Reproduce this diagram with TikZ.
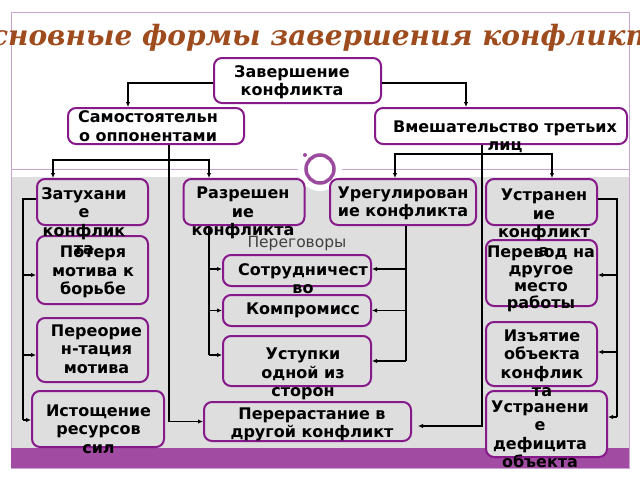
\documentclass[tikz,border=0pt]{standalone}
\usepackage{fontspec}
\setmainfont{DejaVu Sans}
\newfontfamily\titlefont{DejaVu Serif}
\usetikzlibrary{arrows.meta}
\definecolor{boxpurple}{HTML}{861A8A}
\definecolor{framepurple}{HTML}{C9A3D2}
\definecolor{barpurple}{HTML}{A24BA2}
\definecolor{ringpurple}{HTML}{9B4A9E}
\definecolor{boxgray}{HTML}{DEDEDE}
\definecolor{titlebrown}{HTML}{9E4C1E}
\definecolor{softtext}{HTML}{404040}
\begin{document}
\begin{tikzpicture}[x=1pt,y=-1pt,
  box/.style={draw=boxpurple, line width=2pt, rounded corners=8pt, fill=white, inner sep=0pt},
  gbox/.style={box, fill=boxgray},
  txt/.style={font=\bfseries\fontsize{16}{18.5}\selectfont, align=center, inner sep=0pt},
  line/.style={draw=black, line width=1.1pt},
  conn/.style={line, -{Latex[length=5pt,width=4.5pt]}}]
\useasboundingbox (0,0) rectangle (640,480);
% background
\fill[white] (0,0) rectangle (640,480);
\draw[framepurple, line width=1pt] (11,12) rectangle (629,468);
\draw[framepurple, line width=1pt] (11,169) -- (629,169);
\fill[boxgray] (12,177) rectangle (629,448);
\fill[barpurple] (11,448) rectangle (629,468);
\fill[white] (320,169) circle (22);
\draw[ringpurple, line width=3.5pt] (320,169) circle (14);
\fill[ringpurple] (305,155) circle (2);
\fill[ringpurple] (335,183) circle (2);
% title
\node[font=\titlefont\bfseries\itshape\fontsize{28}{30}\selectfont, text=titlebrown, anchor=base, inner sep=0pt] (title) at (320,45) {Основные формы завершения конфликта};
% boxes
\node[box, minimum width=167pt, minimum height=45pt] (zav) at (297.5,80.5) {};
\node[box, minimum width=176pt, minimum height=36pt] (sam) at (156,126) {};
\node[box, minimum width=252pt, minimum height=36pt] (vme) at (501,126) {};
\node[gbox, minimum width=111pt, minimum height=46pt] (zat) at (92.5,202) {};
\node[gbox, minimum width=121pt, minimum height=46pt] (raz) at (244,202) {};
\node[gbox, minimum width=146pt, minimum height=46pt] (ure) at (403,202) {};
\node[gbox, minimum width=111pt, minimum height=46pt] (ust) at (541.5,202) {};
\node[gbox, minimum width=111pt, minimum height=68pt] (pot) at (92.5,270) {};
\node[gbox, minimum width=111pt, minimum height=64pt] (per) at (92.5,350) {};
\node[gbox, minimum width=132pt, minimum height=56pt] (ist) at (98,419) {};
\node[gbox, minimum width=148pt, minimum height=31pt] (sot) at (297,270.5) {};
\node[gbox, minimum width=148pt, minimum height=31pt] (kom) at (297,310.5) {};
\node[gbox, minimum width=148pt, minimum height=50pt] (ustup) at (297,361) {};
\node[gbox, minimum width=207pt, minimum height=39pt] (pererast) at (307.5,421.5) {};
\node[gbox, minimum width=111pt, minimum height=66pt] (perevod) at (541.5,273) {};
\node[gbox, minimum width=111pt, minimum height=64pt] (izyat) at (541.5,354) {};
\node[gbox, minimum width=121pt, minimum height=66pt] (defic) at (546.5,424) {};
% connectors top
\draw[conn] ([yshift=-2.5pt]zav.west) -| ([xshift=-28pt]sam.north);
\draw[conn] ([yshift=-2.5pt]zav.east) -| ([xshift=-35pt]vme.north);
\coordinate (jL) at (169,160);
\draw[line] (sam.south -| jL) -- (jL);
\draw[conn] (jL) -| ([xshift=-39.5pt]zat.north);
\draw[conn] (jL) -| ([xshift=-35pt]raz.north);
\draw[conn] (jL) |- (pererast.west);
\coordinate (jR) at (482,154);
\draw[line] (vme.south -| jR) -- (jR);
\draw[conn] (jR) -| ([xshift=-8pt]ure.north);
\draw[conn] (jR) -| ([xshift=10.5pt]ust.north);
\draw[conn] (jR) |- ([xshift=6pt,yshift=-4.5pt]pererast.east);
% left column
\coordinate (bL) at (23,0);
\draw[line] ([yshift=3pt]zat.west) -| ([yshift=-1pt]ist.west -| bL);
\draw[conn] ([yshift=-5pt]pot.west -| bL) -- ([yshift=-5pt]pot.west);
\draw[conn] ([yshift=-5pt]per.west -| bL) -- ([yshift=-5pt]per.west);
\draw[conn] ([yshift=-1pt]ist.west -| bL) -- ([yshift=-1pt]ist.west);
% resolution branch
\coordinate (bM) at (209,0);
\draw[line] (raz.south -| bM) -- ([yshift=6pt]ustup.west -| bM);
\draw[conn] ([yshift=1.5pt]sot.west -| bM) -- ([yshift=1.5pt]sot.west);
\draw[conn] (kom.west -| bM) -- (kom.west);
\draw[conn] ([yshift=6pt]ustup.west -| bM) -- ([yshift=6pt]ustup.west);
% settlement branch
\coordinate (bU) at (406,0);
\draw[line] (ure.south -| bU) -- (ustup.east -| bU);
\draw[conn] ([yshift=1.5pt]sot.east -| bU) -- ([yshift=1.5pt]sot.east);
\draw[conn] (kom.east -| bU) -- (kom.east);
\draw[conn] (ustup.east -| bU) -- (ustup.east);
% right column
\coordinate (bR) at (617,0);
\draw[line] ([yshift=3pt]ust.east) -| ([yshift=7pt]defic.east -| bR);
\draw[conn] ([yshift=-2pt]perevod.east -| bR) -- ([yshift=-2pt]perevod.east);
\draw[conn] ([yshift=2pt]izyat.east -| bR) -- ([yshift=2pt]izyat.east);
\draw[conn] ([yshift=7pt]defic.east -| bR) -- ([yshift=7pt]defic.east);
% texts
\node[txt] (zavT) at (292,82) {Завершение\\конфликта};
\node[txt] (samT) at (148,126) {Самостоятельн\\о оппонентами};
\node[txt] (vmeT) at (505,137) {Вмешательство третьих\\лиц};
\node[txt] (zatT) at (84,221) {Затухани\\е\\конфлик\\та};
\node[txt] (razT) at (243,213) {Разрешен\\ие\\конфликта};
\node[txt] (ureT) at (403,203.5) {Урегулирован\\ие конфликта};
\node[txt] (ustT) at (544,223) {Устранен\\ие\\конфликт\\а};
\node[txt] (potT) at (93,272) {Потеря\\мотива к\\борьбе};
\node[txt] (perT) at (96.5,349) {Переорие\\н-тация\\мотива};
\node[txt] (istT) at (98.5,429) {Истощение\\ресурсов\\сил};
\node[txt] (sotT) at (303,278.5) {Сотрудничест\\во};
\node[txt] (komT) at (303,310) {Компромисс};
\node[txt] (ustupT) at (303,374) {Уступки\\одной из\\сторон};
\node[txt] (pererastT) at (312,424.5) {Перерастание в\\другой конфликт};
\node[txt, font=\bfseries\fontsize{16}{17}\selectfont] (perevodT) at (541,278.5) {Перевод на\\другое\\место\\работы};
\node[txt] (izyatT) at (542,363.5) {Изъятие\\объекта\\конфлик\\та};
\node[txt] (deficT) at (540,434.5) {Устранени\\е\\дефицита\\объекта};
\node[font=\fontsize{15.5}{18.5}\selectfont, text=softtext, inner sep=0pt] (negT) at (297,243) {Переговоры};
\end{tikzpicture}
\end{document}
